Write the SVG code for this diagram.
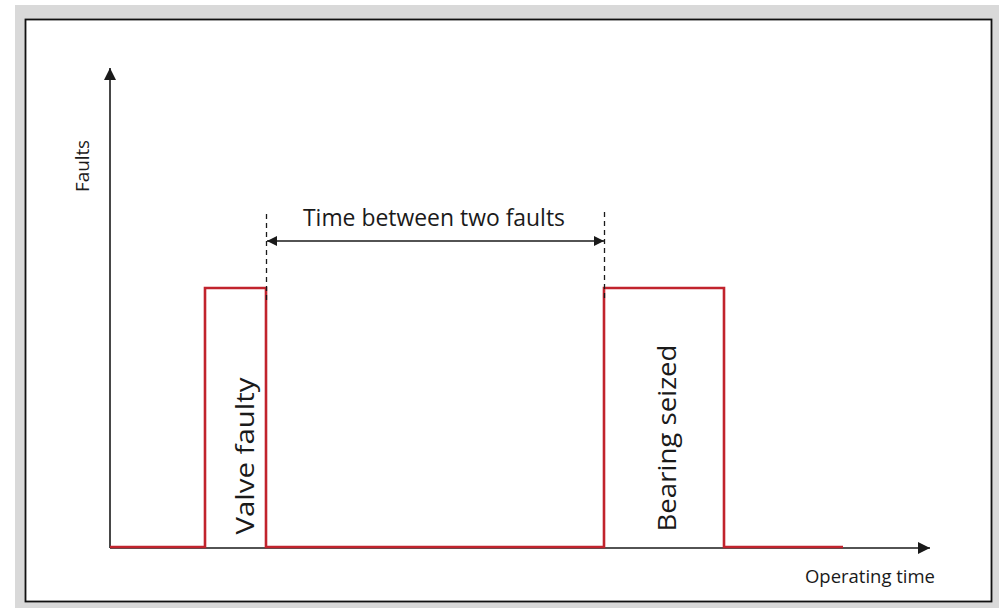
<svg xmlns="http://www.w3.org/2000/svg" width="999" height="608" viewBox="0 0 999 608">
  <style>
    .axis { stroke: #1a1a1a; stroke-width: 1.6; fill: none; }
    .pulse { stroke: #c1232d; stroke-width: 2.6; fill: none; stroke-linejoin: miter; }
    .dash { stroke: #1a1a1a; stroke-width: 1.3; stroke-dasharray: 5 4; fill: none; }
    .lbl { font-family: "Open Sans", "Noto Sans", "Liberation Sans", sans-serif; fill: #1a1a1a; }
  </style>
  <defs>
    <marker id="arr" viewBox="0 0 10 10" refX="10" refY="5" markerWidth="10" markerHeight="10" markerUnits="userSpaceOnUse" orient="auto-start-reverse">
      <path d="M0,0 L10,5 L0,10 Z" fill="#1a1a1a"/>
    </marker>
    <marker id="arrBig" viewBox="0 0 12 12" refX="12" refY="6" markerWidth="12" markerHeight="12" markerUnits="userSpaceOnUse" orient="auto-start-reverse">
      <path d="M0,0 L12,6 L0,12 Z" fill="#1a1a1a"/>
    </marker>
  </defs>

  <!-- frame -->
  <rect x="0" y="0" width="999" height="608" fill="#ffffff"/>
  <rect x="15" y="5" width="984" height="603" fill="#d9d9d9"/>
  <rect x="25.5" y="19.5" width="966" height="582" fill="#ffffff" stroke="#111111" stroke-width="1.8"/>

  <!-- axes -->
  <g id="axes">
    <line class="axis" x1="110" y1="548" x2="110" y2="68" marker-end="url(#arrBig)"/>
    <line class="axis" x1="110" y1="548" x2="930" y2="548" marker-end="url(#arrBig)"/>
    <text class="lbl" font-size="18" transform="translate(89,166) rotate(-90)" text-anchor="middle" textLength="52" lengthAdjust="spacingAndGlyphs">Faults</text>
    <text class="lbl" font-size="19" x="870" y="583" text-anchor="middle" textLength="130" lengthAdjust="spacingAndGlyphs">Operating time</text>
  </g>

  <!-- fault signal -->
  <g id="signal">
    <path class="pulse" d="M110,547 H205 V288 H266 V547 H604 V288 H724 V547 H843"/>
  </g>

  <g id="valve-faulty">
    <text class="lbl" font-size="26" transform="translate(254,456) rotate(-90)" text-anchor="middle" textLength="157" lengthAdjust="spacingAndGlyphs">Valve faulty</text>
  </g>

  <g id="bearing-seized">
    <text class="lbl" font-size="26" transform="translate(676,438) rotate(-90)" text-anchor="middle" textLength="187" lengthAdjust="spacingAndGlyphs">Bearing seized</text>
  </g>

  <!-- interval dimension -->
  <g id="connectors">
    <line class="dash" x1="266.5" y1="214" x2="266.5" y2="300"/>
    <line class="dash" x1="604.5" y1="212" x2="604.5" y2="300"/>
    <line class="axis" x1="267" y1="241" x2="604" y2="241" marker-start="url(#arr)" marker-end="url(#arr)"/>
  </g>
  <g id="interval-label">
    <text class="lbl" font-size="23" x="434" y="226" text-anchor="middle" textLength="262" lengthAdjust="spacingAndGlyphs">Time between two faults</text>
  </g>
</svg>
